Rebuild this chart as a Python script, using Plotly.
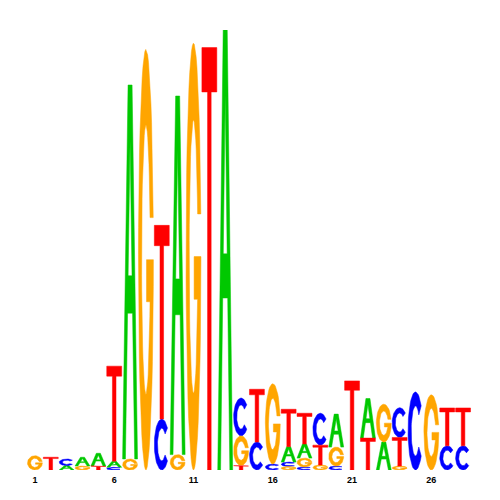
import math
import plotly.graph_objects as go

# ---- data: information content (bits) of each base at each position ----
positions = list(range(1, 29))
A = [0, 0, 0.020, 0.040, 0.058, 0.028, 1.700, 0, 0, 1.630, 0, 0, 2.005, 0,
     0, 0, 0.070, 0.064, 0, 0.150, 0, 0.180, 0.127, 0, 0, 0, 0, 0]
C = [0, 0, 0.030, 0, 0, 0.012, 0, 0, 0.232, 0, 0, 0, 0, 0.172,
     0.127, 0.027, 0.020, 0.014, 0.145, 0.018, 0, 0, 0, 0.135, 0.355, 0, 0.110, 0.110]
G = [0.065, 0, 0, 0.018, 0, 0, 0.050, 1.912, 0, 0.070, 1.940, 0, 0, 0.135,
     0, 0.365, 0.016, 0.040, 0.023, 0.086, 0, 0, 0.172, 0.018, 0, 0.342, 0, 0]
T = [0, 0.058, 0, 0, 0.018, 0.432, 0, 0, 0.880, 0, 0, 1.920, 0, 0.020,
     0.240, 0, 0.170, 0.140, 0.090, 0, 0.405, 0.145, 0, 0.130, 0, 0, 0.172, 0.172]
tick_vals = [1, 6, 11, 16, 21, 26]
tick_text = ["1", "6", "11", "16", "21", "26"]

colors = {"A": "#00C800", "C": "#0000FF", "G": "#FFA500", "T": "#FF0000"}
heights = {"A": A, "C": C, "G": G, "T": T}


# ---- glyph outlines in a unit box ----
def arc(cx, cy, rx, ry, a0, a1, n=48):
    pts = []
    for i in range(n + 1):
        a = math.radians(a0 + (a1 - a0) * i / n)
        pts.append((cx + rx * math.cos(a), cy + ry * math.sin(a)))
    return pts


def glyph_A():
    s = 0.365
    t = 0.19
    cb0, cb1 = 0.39, 0.49
    outer = [(0, 0), (t, 0), (t + s * cb0, cb0), (1 - t - s * cb0, cb0),
             (1 - t, 0), (1, 0), (1 - s, 1), (s, 1), (0, 0)]
    ytop = (1 - 2 * t) / (2 * s)
    # clockwise hole (outer is counter-clockwise) so the counter stays open
    hole = [(t + s * cb1, cb1), (0.5, ytop), (1 - t - s * cb1, cb1), (t + s * cb1, cb1)]
    pts = outer[:3] + hole + [outer[2]] + outer[3:]
    return pts


def glyph_C():
    o = arc(0.5, 0.5, 0.5, 0.5, 40, 320)
    i = arc(0.5, 0.5, 0.29, 0.32, 320, 40)
    return o + i + [o[0]]


def glyph_G():
    rxi, ryi = 0.29, 0.32
    a_top_o = math.degrees(math.asin(0.10 / 0.5))
    a_top_i = math.degrees(math.asin(0.10 / ryi))
    o = arc(0.5, 0.5, 0.5, 0.5, a_top_o, 360)
    a_bar = math.degrees(math.asin(-0.10 / ryi))
    bar_x = 0.5 + rxi * math.cos(math.radians(a_bar))
    i = arc(0.5, 0.5, rxi, ryi, a_bar, -360 + a_top_i)
    pts = o + [(1.0, 0.50), (0.54, 0.50), (0.54, 0.40), (bar_x, 0.40)] + i + [o[0]]
    return pts


def glyph_T():
    sw0, sw1, cb = 0.38, 0.62, 0.895
    return [(sw0, 0), (sw1, 0), (sw1, cb), (1, cb), (1, 1), (0, 1), (0, cb), (sw0, cb), (sw0, 0)]


glyphs = {"A": glyph_A(), "C": glyph_C(), "G": glyph_G(), "T": glyph_T()}

half = 0.47
xs = {b: [] for b in "ACGT"}
ys = {b: [] for b in "ACGT"}
for k, p in enumerate(positions):
    stack = sorted([(heights[b][k], b) for b in "ACGT" if heights[b][k] > 0])
    y0 = 0.0
    for h, b in stack:
        for u, v in glyphs[b]:
            xs[b].append(p - half + 2 * half * u)
            ys[b].append(y0 + h * v)
        xs[b].append(None)
        ys[b].append(None)
        y0 += h

fig = go.Figure()
for b in "ACGT":
    fig.add_trace(go.Scatter(
        x=xs[b], y=ys[b], mode="lines", fill="toself",
        fillcolor=colors[b], line=dict(color=colors[b], width=0.5),
        hoverinfo="skip", showlegend=False, name=b))

fig.update_layout(
    width=492, height=492,
    margin=dict(l=19, r=29, t=22, b=30),
    paper_bgcolor="white", plot_bgcolor="white",
    xaxis=dict(range=[0.5, 28.5], tickmode="array", tickvals=tick_vals, ticktext=tick_text,
               showgrid=False, zeroline=False, showline=False, ticks="",
               tickfont=dict(family="Liberation Sans", size=9, color="black", weight="bold"),
               ticklabelstandoff=3),
    yaxis=dict(range=[0, 2.0], visible=False, showgrid=False, zeroline=False),
)

fig.write_html("out.html")
